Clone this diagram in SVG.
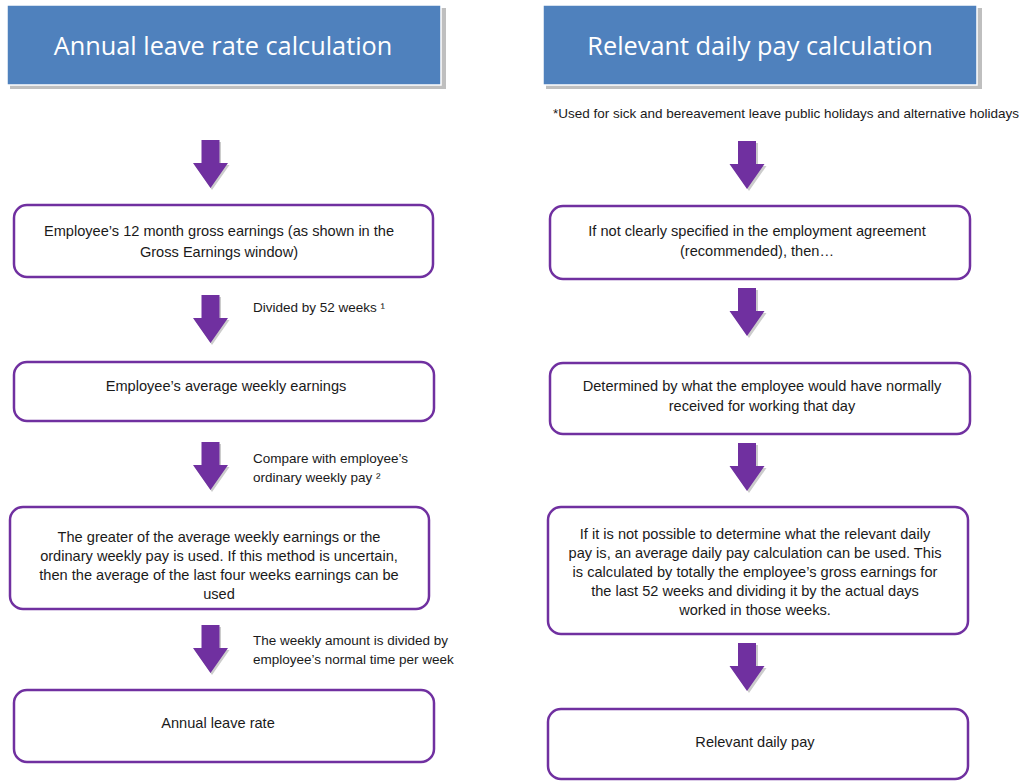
<svg xmlns="http://www.w3.org/2000/svg" width="1019" height="781" viewBox="0 0 1019 781">
<defs>
<style>
.title{fill:#4F81BD;stroke:#FFFFFF;stroke-width:1.5}
.tshadow{fill:#BFBFBF}
.box{fill:#FFFFFF;stroke:#7030A0;stroke-width:2.5}
.tt{font-family:"Open Sans","Liberation Sans",sans-serif;font-size:25.3px;fill:#FFFFFF;text-anchor:middle}
.bt{font-family:"Liberation Sans",sans-serif;font-size:14.6px;fill:#1a1a1a;text-anchor:middle}
.lt{font-family:"Liberation Sans",sans-serif;font-size:13.5px;fill:#1a1a1a}
.arr{fill:#7030A0}
.ash{fill:#CCCCCC}
</style>
<g id="arrowShape">
<path d="M-9,0 H9 V23 H17.5 L0,48 L-17.5,23 H-9 Z"/>
</g>
</defs>
<rect width="1019" height="781" fill="#FFFFFF"/>

<g id="title-left">
<rect class="tshadow" x="10" y="8" width="436" height="81"/>
<rect class="title" x="7" y="5" width="434" height="80"/>
<text class="tt" x="223" y="55">Annual leave rate calculation</text>
</g>
<g id="title-right">
<rect class="tshadow" x="546" y="8" width="436" height="81"/>
<rect class="title" x="543" y="5" width="434" height="80"/>
<text class="tt" x="760" y="55">Relevant daily pay calculation</text>
</g>

<g id="note-right">
<text class="lt" x="553" y="118" font-size="12.6">*Used for sick and bereavement leave public holidays and alternative holidays</text>
</g>

<g id="connectors">
<g class="ash"><use href="#arrowShape" x="212" y="142"/><use href="#arrowShape" x="212" y="297"/><use href="#arrowShape" x="212" y="444"/><use href="#arrowShape" x="212" y="627"/><use href="#arrowShape" x="749" y="143"/><use href="#arrowShape" x="749" y="290"/><use href="#arrowShape" x="749" y="445"/><use href="#arrowShape" x="749" y="645"/></g>
<g class="arr"><use href="#arrowShape" x="210.5" y="140"/><use href="#arrowShape" x="210.5" y="295"/><use href="#arrowShape" x="210.5" y="442"/><use href="#arrowShape" x="210.5" y="625"/><use href="#arrowShape" x="747" y="141"/><use href="#arrowShape" x="747" y="288"/><use href="#arrowShape" x="747" y="443"/><use href="#arrowShape" x="747" y="643"/></g>
<text class="lt" x="253" y="312">Divided by 52 weeks ¹</text>
<text class="lt" x="253" y="463">Compare with employee’s</text>
<text class="lt" x="253" y="482">ordinary weekly pay ²</text>
<text class="lt" x="253" y="645">The weekly amount is divided by</text>
<text class="lt" x="253" y="664">employee’s normal time per week</text>
</g>

<g id="box-l1">
<rect class="box" x="14" y="205" width="419" height="72" rx="13"/>
<text class="bt" x="219" y="236">Employee’s 12 month gross earnings (as shown in the</text>
<text class="bt" x="219" y="257">Gross Earnings window)</text>
</g>
<g id="box-l2">
<rect class="box" x="14" y="362" width="420" height="59" rx="13"/>
<text class="bt" x="226" y="391">Employee’s average weekly earnings</text>
</g>
<g id="box-l3">
<rect class="box" x="10" y="507" width="419" height="102" rx="13"/>
<text class="bt" x="219" y="542">The greater of the average weekly earnings or the</text>
<text class="bt" x="219" y="561">ordinary weekly pay is used. If this method is uncertain,</text>
<text class="bt" x="219" y="580">then the average of the last four weeks earnings can be</text>
<text class="bt" x="219" y="599">used</text>
</g>
<g id="box-l4">
<rect class="box" x="14" y="690" width="420" height="72" rx="13"/>
<text class="bt" x="218" y="728">Annual leave rate</text>
</g>

<g id="box-r1">
<rect class="box" x="550" y="206" width="420" height="73" rx="13"/>
<text class="bt" x="757" y="236">If not clearly specified in the employment agreement</text>
<text class="bt" x="757" y="256">(recommended), then…</text>
</g>
<g id="box-r2">
<rect class="box" x="550" y="363" width="420" height="71" rx="13"/>
<text class="bt" x="762" y="391">Determined by what the employee would have normally</text>
<text class="bt" x="762" y="411">received for working that day</text>
</g>
<g id="box-r3">
<rect class="box" x="548" y="507" width="420" height="127" rx="13"/>
<text class="bt" x="755" y="539">If it is not possible to determine what the relevant daily</text>
<text class="bt" x="755" y="558">pay is, an average daily pay calculation can be used. This</text>
<text class="bt" x="755" y="577">is calculated by totally the employee’s gross earnings for</text>
<text class="bt" x="755" y="596">the last 52 weeks and dividing it by the actual days</text>
<text class="bt" x="755" y="615">worked in those weeks.</text>
</g>
<g id="box-r4">
<rect class="box" x="548" y="709" width="420" height="70" rx="13"/>
<text class="bt" x="755" y="747">Relevant daily pay</text>
</g>
</svg>
